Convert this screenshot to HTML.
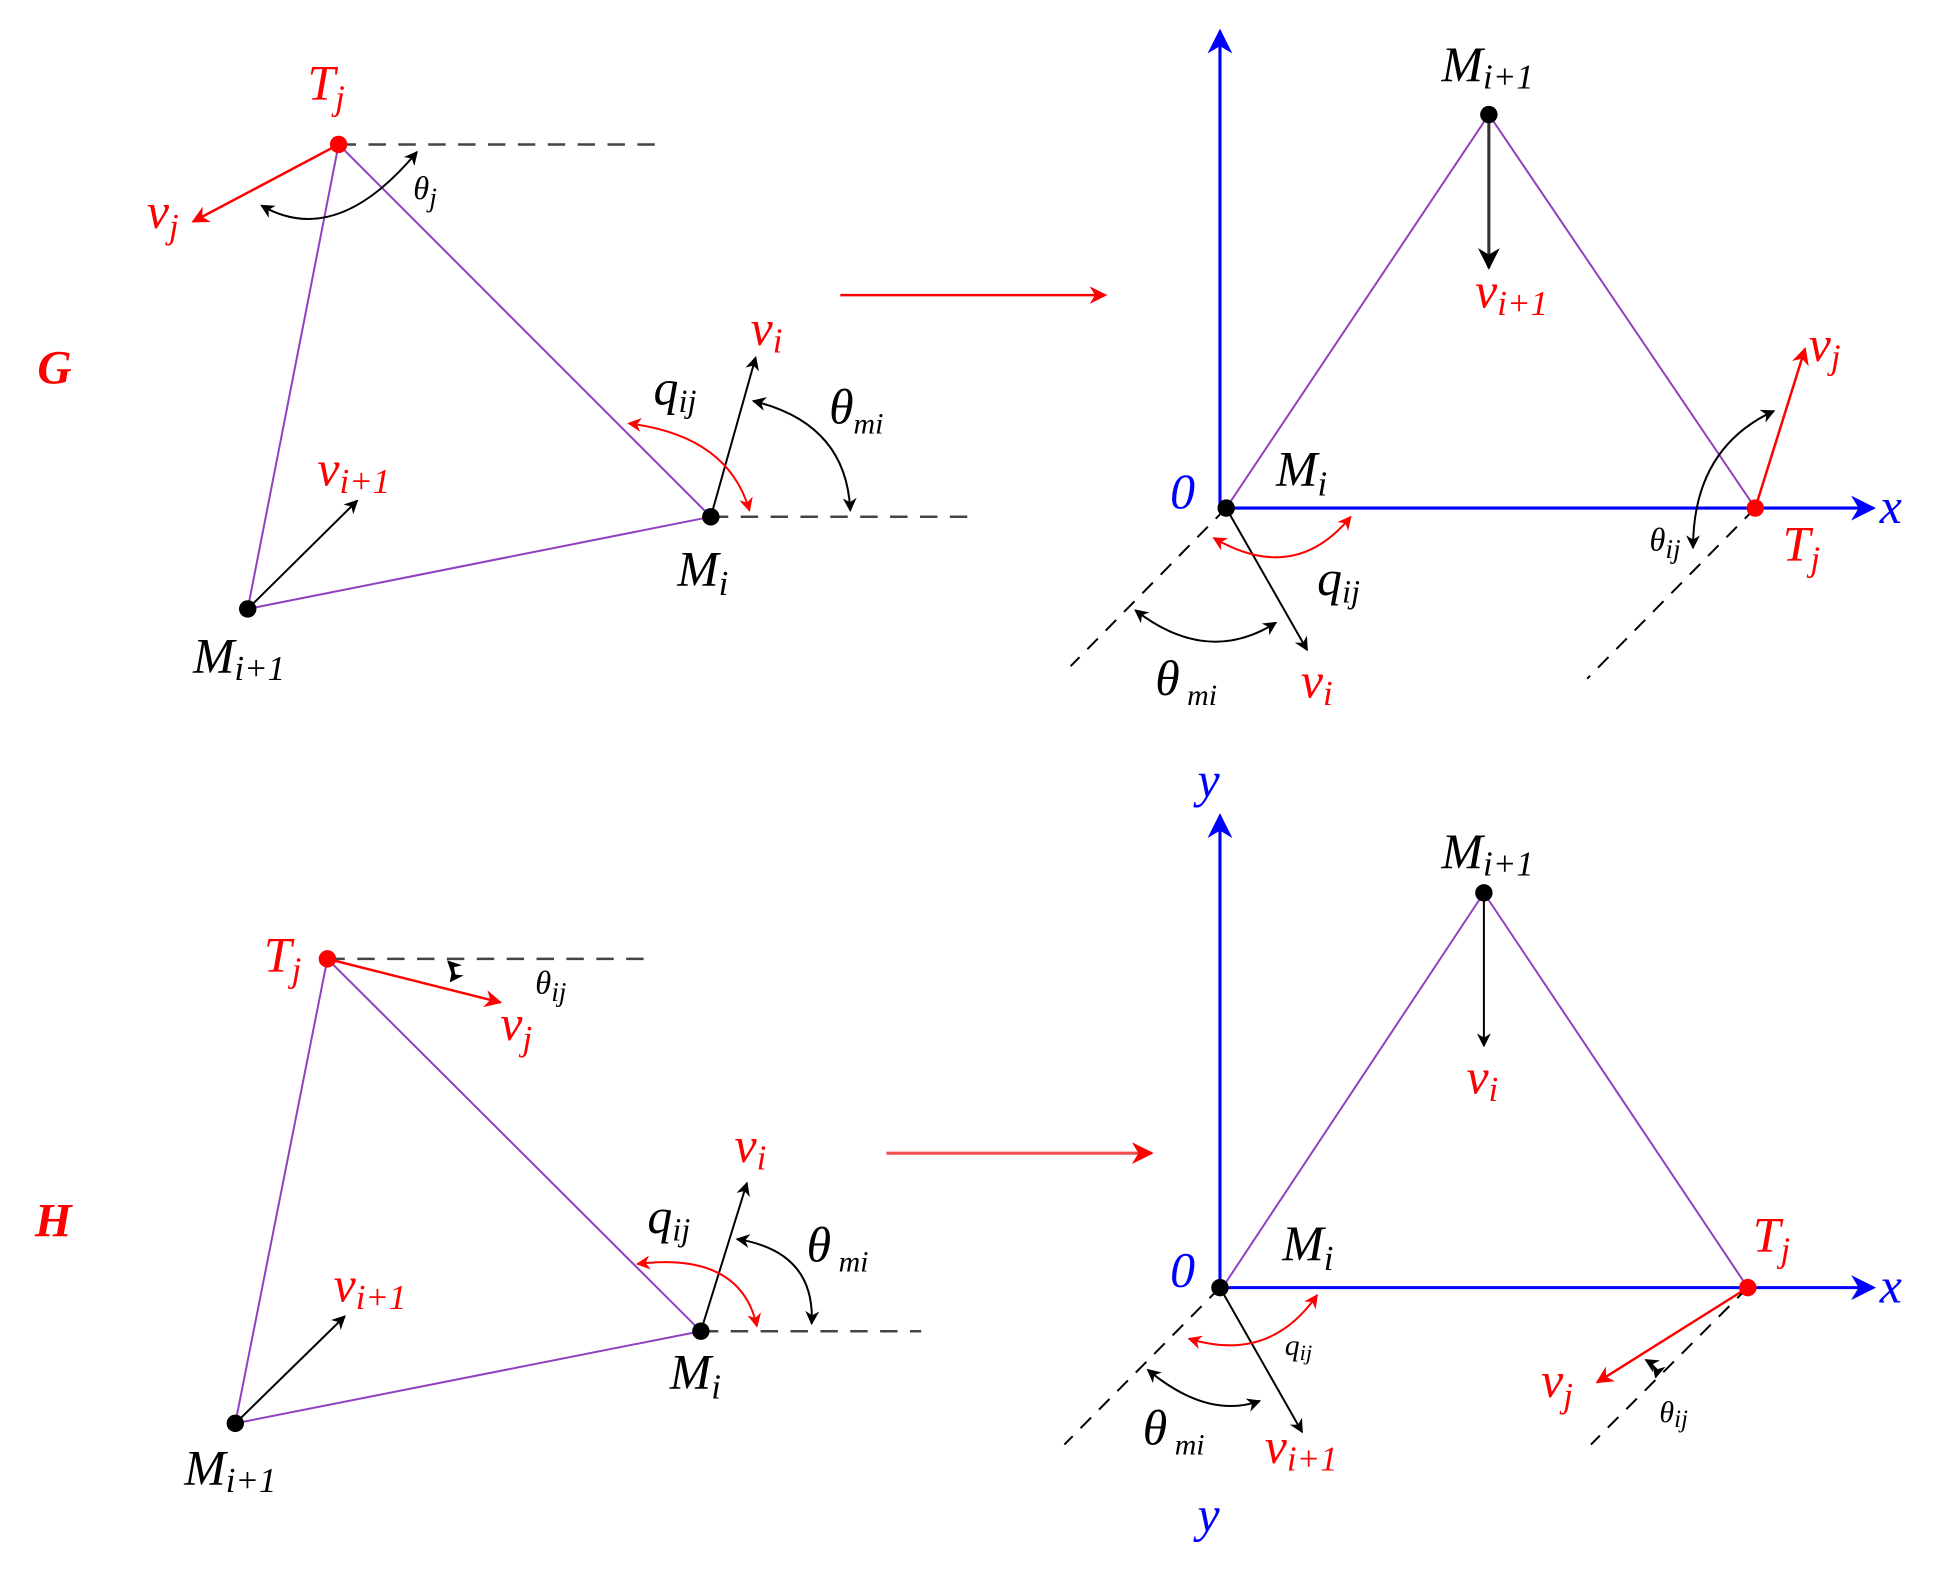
<!DOCTYPE html>
<html><head><style>html,body{margin:0;padding:0;background:#fff}svg{display:block}
text{font-family:"Liberation Serif",serif;font-style:italic}</style></head><body>
<svg width="1942" height="1584" viewBox="0 0 1560 1272" preserveAspectRatio="none" xmlns="http://www.w3.org/2000/svg">
<defs>
<marker id="ak" viewBox="0 0 10 10" refX="9" refY="5" markerWidth="7" markerHeight="7" orient="auto-start-reverse"><path d="M0,0L10,5L0,10L3,5z" fill="#000"/></marker>
<marker id="ar" viewBox="0 0 10 10" refX="9" refY="5" markerWidth="7" markerHeight="7" orient="auto-start-reverse"><path d="M0,0L10,5L0,10L3,5z" fill="red"/></marker>
<marker id="ab" viewBox="0 0 10 10" refX="9" refY="5" markerWidth="8" markerHeight="8" orient="auto"><path d="M0,0L10,5L0,10L3,5z" fill="blue"/></marker>
</defs>
<g fill="none" stroke-width="1.6">
<!-- G left -->
<path d="M272,116H530M571,415H780" stroke="#444" stroke-dasharray="14,10" stroke-width="2"/>
<path d="M272,116L199,489L571,415Z" stroke="#9040c0"/>
<line x1="272" y1="116" x2="155" y2="178" stroke="red" stroke-width="2" marker-end="url(#ar)"/>
<path d="M210,165Q270,200 335,122" stroke="#000" marker-start="url(#ak)" marker-end="url(#ak)"/>
<line x1="571" y1="415" x2="607" y2="287" stroke="#000" marker-end="url(#ak)"/>
<path d="M505,340Q585,350 602,410" stroke="red" marker-start="url(#ar)" marker-end="url(#ar)"/>
<path d="M605,322Q680,340 683,410" stroke="#000" marker-start="url(#ak)" marker-end="url(#ak)"/>
<line x1="199" y1="489" x2="287" y2="402" stroke="#000" marker-end="url(#ak)"/>
<line x1="675" y1="237" x2="888" y2="237" stroke="red" stroke-width="2" marker-end="url(#ar)"/>
<!-- G right -->
<line x1="980" y1="410" x2="980" y2="25" stroke="blue" stroke-width="2.5" marker-end="url(#ab)"/>
<line x1="982" y1="408" x2="1505" y2="408" stroke="blue" stroke-width="2.5" marker-end="url(#ab)"/>
<path d="M985,408L1196,92L1410,408" stroke="#9040c0"/>
<line x1="1196" y1="92" x2="1196" y2="215" stroke="#333" stroke-width="2.5" marker-end="url(#ak)"/>
<line x1="1410" y1="408" x2="1450" y2="280" stroke="red" stroke-width="2" marker-end="url(#ar)"/>
<path d="M985,408L860,535M1410,408L1275,545" stroke="#000" stroke-dasharray="12,9"/>
<line x1="985" y1="408" x2="1050" y2="522" stroke="#000" marker-end="url(#ak)"/>
<path d="M975,432Q1040,470 1085,415" stroke="red" marker-start="url(#ar)" marker-end="url(#ar)"/>
<path d="M912,490Q970,535 1025,500" stroke="#000" marker-start="url(#ak)" marker-end="url(#ak)"/>
<path d="M1425,330Q1360,360 1360,440" stroke="#000" marker-start="url(#ak)" marker-end="url(#ak)"/>
<!-- H left -->
<path d="M263,770H525M563,1069H740" stroke="#444" stroke-dasharray="14,10" stroke-width="2"/>
<path d="M263,770L189,1143L563,1069Z" stroke="#9040c0"/>
<line x1="263" y1="770" x2="402" y2="805" stroke="red" stroke-width="2" marker-end="url(#ar)"/>
<path d="M360,772Q368,780 362,788" stroke="#000" marker-start="url(#ak)" marker-end="url(#ak)"/>
<line x1="563" y1="1069" x2="600" y2="950" stroke="#000" marker-end="url(#ak)"/>
<path d="M512,1015Q595,1005 608,1065" stroke="red" marker-start="url(#ar)" marker-end="url(#ar)"/>
<path d="M592,995Q655,1005 652,1063" stroke="#000" marker-start="url(#ak)" marker-end="url(#ak)"/>
<line x1="189" y1="1143" x2="277" y2="1057" stroke="#000" marker-end="url(#ak)"/>
<line x1="712" y1="926" x2="925" y2="926" stroke="#f05050" stroke-width="2.5" marker-end="url(#ar)"/>
<!-- H right -->
<line x1="980" y1="1036" x2="980" y2="655" stroke="blue" stroke-width="2.5" marker-end="url(#ab)"/>
<line x1="982" y1="1034" x2="1505" y2="1034" stroke="blue" stroke-width="2.5" marker-end="url(#ab)"/>
<path d="M982,1034L1192,717L1404,1034" stroke="#9040c0"/>
<line x1="1192" y1="717" x2="1192" y2="840" stroke="#000" marker-end="url(#ak)"/>
<line x1="1404" y1="1034" x2="1283" y2="1110" stroke="red" stroke-width="2" marker-end="url(#ar)"/>
<path d="M980,1034L855,1160M1404,1034L1278,1160" stroke="#000" stroke-dasharray="12,9"/>
<line x1="980" y1="1034" x2="1046" y2="1150" stroke="#000" marker-end="url(#ak)"/>
<path d="M955,1075Q1020,1095 1058,1040" stroke="red" marker-start="url(#ar)" marker-end="url(#ar)"/>
<path d="M922,1100Q970,1140 1012,1125" stroke="#000" marker-start="url(#ak)" marker-end="url(#ak)"/>
<path d="M1322,1092Q1332,1098 1330,1106" stroke="#000" marker-start="url(#ak)" marker-end="url(#ak)"/>
</g>
<g>
<circle cx="272" cy="116" r="7" fill="red"/><circle cx="571" cy="415" r="7"/><circle cx="199" cy="489" r="7"/>
<circle cx="985" cy="408" r="7"/><circle cx="1196" cy="92" r="7"/><circle cx="1410" cy="408" r="7" fill="red"/>
<circle cx="263" cy="770" r="7" fill="red"/><circle cx="563" cy="1069" r="7"/><circle cx="189" cy="1143" r="7"/>
<circle cx="980" cy="1034" r="7"/><circle cx="1192" cy="717" r="7"/><circle cx="1404" cy="1034" r="7" fill="red"/>
</g>
<g font-size="40">
<text x="30" y="308" fill="red" font-weight="bold" font-size="38">G</text>
<text x="28" y="993" fill="red" font-weight="bold" font-size="38">H</text>
<text x="247" y="80" fill="red">T<tspan font-size="28" dy="8">j</tspan></text>
<text x="118" y="183" fill="red">v<tspan font-size="28" dy="8">j</tspan></text>
<text x="332" y="160" font-size="26">θ<tspan dy="6" font-size="22">j</tspan></text>
<text x="603" y="277" fill="red">v<tspan font-size="28" dy="6">i</tspan></text>
<text x="525" y="325">q<tspan font-size="26" dy="6">ij</tspan></text>
<text x="666" y="340">θ<tspan font-size="24" dy="8">mi</tspan></text>
<text x="255" y="390" fill="red">v<tspan font-size="28" dy="6">i+1</tspan></text>
<text x="544" y="470">M<tspan font-size="28" dy="8">i</tspan></text>
<text x="155" y="540">M<tspan font-size="28" dy="6">i+1</tspan></text>
<text x="1158" y="65">M<tspan font-size="28" dy="6">i+1</tspan></text>
<text x="1185" y="247" fill="red">v<tspan font-size="28" dy="6">i+1</tspan></text>
<text x="1453" y="290" fill="red">v<tspan font-size="28" dy="6">j</tspan></text>
<text x="940" y="408" fill="blue">0</text>
<text x="1025" y="390">M<tspan font-size="28" dy="8">i</tspan></text>
<text x="1510" y="420" fill="blue">x</text>
<text x="1432" y="450" fill="red">T<tspan font-size="28" dy="8">j</tspan></text>
<text x="1325" y="442" font-size="26">θ<tspan font-size="22" dy="6">ij</tspan></text>
<text x="1058" y="478">q<tspan font-size="26" dy="6">ij</tspan></text>
<text x="928" y="558">θ<tspan font-size="24" dy="8"> mi</tspan></text>
<text x="1045" y="560" fill="red">v<tspan font-size="28" dy="6">i</tspan></text>
<text x="212" y="780" fill="red">T<tspan font-size="28" dy="8">j</tspan></text>
<text x="402" y="835" fill="red">v<tspan font-size="28" dy="8">j</tspan></text>
<text x="430" y="798" font-size="26">θ<tspan font-size="22" dy="6">ij</tspan></text>
<text x="590" y="933" fill="red">v<tspan font-size="28" dy="6">i</tspan></text>
<text x="520" y="990">q<tspan font-size="26" dy="6">ij</tspan></text>
<text x="648" y="1013">θ<tspan font-size="24" dy="8"> mi</tspan></text>
<text x="268" y="1045" fill="red">v<tspan font-size="28" dy="6">i+1</tspan></text>
<text x="538" y="1115">M<tspan font-size="28" dy="8">i</tspan></text>
<text x="148" y="1192">M<tspan font-size="28" dy="6">i+1</tspan></text>
<text x="962" y="640" fill="blue">y</text>
<text x="962" y="1230" fill="blue">y</text>
<text x="1158" y="697">M<tspan font-size="28" dy="6">i+1</tspan></text>
<text x="1178" y="878" fill="red">v<tspan font-size="28" dy="6">i</tspan></text>
<text x="940" y="1033" fill="blue">0</text>
<text x="1030" y="1012">M<tspan font-size="28" dy="8">i</tspan></text>
<text x="1510" y="1046" fill="blue">x</text>
<text x="1408" y="1005" fill="red">T<tspan font-size="28" dy="8">j</tspan></text>
<text x="1238" y="1122" fill="red">v<tspan font-size="28" dy="8">j</tspan></text>
<text x="1333" y="1142" font-size="24" font-style="normal">θ<tspan font-size="20" dy="4">ij</tspan></text>
<text x="1032" y="1088" font-size="24">q<tspan font-size="18" dy="4">ij</tspan></text>
<text x="918" y="1160">θ<tspan font-size="24" dy="8"> mi</tspan></text>
<text x="1016" y="1175" fill="red">v<tspan font-size="28" dy="6">i+1</tspan></text>
</g>
</svg>
</body></html>
